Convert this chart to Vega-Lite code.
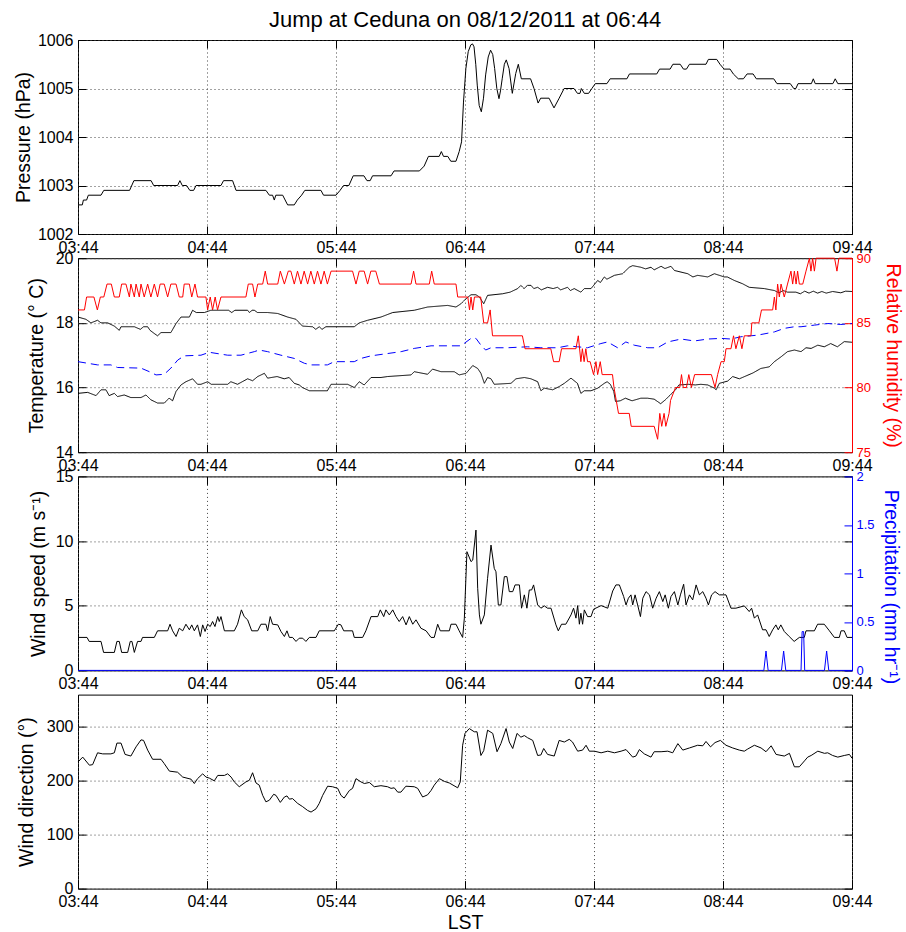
{
"$schema":"https://vega.github.io/schema/vega-lite/v6.json",
"background":"white",
"padding":{"left":12,"top":8,"right":5,"bottom":5},
"title":{"text":"Jump at Ceduna on 08/12/2011 at 06:44","fontSize":22,"fontWeight":"normal","font":"Liberation Sans","color":"black","anchor":"middle","frame":"group","offset":0},
"spacing":24.2,
"bounds":"flush",
"config":{
 "font":"Liberation Sans",
 "view":{"stroke":"black","strokeWidth":1},
 "axis":{"labelFont":"Liberation Sans","labelFontSize":16,"labelColor":"black","titleFont":"Liberation Sans","titleFontSize":19.5,"titleFontWeight":"normal","titleColor":"black","tickColor":"black","tickWidth":1,"tickSize":-8,"domain":false,"gridColor":"#444","gridDash":[1,3],"gridWidth":1,"labelFlush":false,"labelOverlap":false}
},
"datasets":{
"pres":[{"t":0,"v":1002.6},{"t":2,"v":1002.6},{"t":2.5,"v":1002.7},{"t":4,"v":1002.7},{"t":4.8,"v":1002.8},{"t":10.7,"v":1002.8},{"t":12,"v":1002.9},{"t":24,"v":1002.9},{"t":26,"v":1003.1},{"t":34,"v":1003.1},{"t":35.2,"v":1003.0},{"t":46.3,"v":1003.0},{"t":47.4,"v":1003.1},{"t":48.5,"v":1003.0},{"t":50.5,"v":1003.0},{"t":52,"v":1002.9},{"t":53.8,"v":1002.9},{"t":54.9,"v":1003.0},{"t":66.5,"v":1003.0},{"t":67.7,"v":1003.1},{"t":71.9,"v":1003.1},{"t":73.5,"v":1002.9},{"t":87.4,"v":1002.9},{"t":89,"v":1002.8},{"t":90.5,"v":1002.8},{"t":91.3,"v":1002.7},{"t":92,"v":1002.8},{"t":95.2,"v":1002.8},{"t":97.5,"v":1002.6},{"t":100.6,"v":1002.6},{"t":102,"v":1002.7},{"t":104,"v":1002.8},{"t":105.5,"v":1002.9},{"t":113,"v":1002.9},{"t":114.2,"v":1002.8},{"t":120,"v":1002.8},{"t":121.9,"v":1002.9},{"t":123.5,"v":1003.0},{"t":126,"v":1003.0},{"t":128,"v":1003.2},{"t":133,"v":1003.2},{"t":134.4,"v":1003.1},{"t":135.9,"v":1003.1},{"t":137,"v":1003.2},{"t":145.6,"v":1003.2},{"t":147,"v":1003.3},{"t":158.8,"v":1003.3},{"t":161,"v":1003.4},{"t":163,"v":1003.6},{"t":168,"v":1003.6},{"t":169,"v":1003.7},{"t":170,"v":1003.6},{"t":172,"v":1003.6},{"t":173.4,"v":1003.5},{"t":175.8,"v":1003.5},{"t":177.3,"v":1003.7},{"t":178.4,"v":1003.9},{"t":179.3,"v":1004.72},{"t":180.4,"v":1005.41},{"t":181.5,"v":1005.76},{"t":182.7,"v":1005.9},{"t":183.5,"v":1005.92},{"t":184.2,"v":1005.86},{"t":185.0,"v":1005.5},{"t":185.7,"v":1005.07},{"t":186.6,"v":1004.65},{"t":187.6,"v":1004.52},{"t":188.6,"v":1004.8},{"t":189.6,"v":1005.28},{"t":190.8,"v":1005.65},{"t":191.9,"v":1005.79},{"t":192.9,"v":1005.7},{"t":193.8,"v":1005.41},{"t":194.8,"v":1005.0},{"t":195.8,"v":1004.79},{"t":196.5,"v":1004.95},{"t":197.3,"v":1005.2},{"t":198.3,"v":1005.5},{"t":199.2,"v":1005.59},{"t":200.5,"v":1005.41},{"t":202,"v":1004.9},{"t":203.6,"v":1005.31},{"t":204.8,"v":1005.5},{"t":206.2,"v":1005.2},{"t":210.5,"v":1005.2},{"t":212.1,"v":1005.0},{"t":214,"v":1004.7},{"t":215.2,"v":1004.8},{"t":219.1,"v":1004.8},{"t":221.4,"v":1004.6},{"t":223.8,"v":1004.8},{"t":226.1,"v":1005.0},{"t":230.7,"v":1005.0},{"t":232.3,"v":1004.9},{"t":233.5,"v":1004.9},{"t":234.1,"v":1005.0},{"t":235.5,"v":1004.9},{"t":237.5,"v":1004.9},{"t":239,"v":1005.0},{"t":240.6,"v":1005.1},{"t":246,"v":1005.1},{"t":247.5,"v":1005.2},{"t":255.3,"v":1005.2},{"t":256.5,"v":1005.3},{"t":269.2,"v":1005.3},{"t":270.5,"v":1005.4},{"t":275.4,"v":1005.4},{"t":276.7,"v":1005.5},{"t":280.1,"v":1005.5},{"t":281.6,"v":1005.4},{"t":283,"v":1005.4},{"t":284.4,"v":1005.5},{"t":292.1,"v":1005.5},{"t":293.2,"v":1005.6},{"t":297.1,"v":1005.6},{"t":298.6,"v":1005.5},{"t":300.5,"v":1005.4},{"t":303.3,"v":1005.4},{"t":304.8,"v":1005.3},{"t":307.1,"v":1005.2},{"t":309.5,"v":1005.2},{"t":311.2,"v":1005.3},{"t":314,"v":1005.3},{"t":315.5,"v":1005.2},{"t":323.6,"v":1005.2},{"t":325.1,"v":1005.1},{"t":331.3,"v":1005.1},{"t":332.9,"v":1005.0},{"t":333.9,"v":1005.0},{"t":334.9,"v":1005.1},{"t":341.1,"v":1005.1},{"t":342,"v":1005.2},{"t":342.9,"v":1005.1},{"t":351.1,"v":1005.1},{"t":352.2,"v":1005.2},{"t":353.4,"v":1005.1},{"t":360,"v":1005.1}],
"temp":[
{"s":"T","t":0,"v":18.18},{"s":"T","t":3.7,"v":18.11},{"s":"T","t":6,"v":18.0},{"s":"T","t":9.1,"v":18.08},{"s":"T","t":10.7,"v":18.0},{"s":"T","t":13.8,"v":18.0},{"s":"T","t":16.9,"v":17.9},{"s":"T","t":19.2,"v":17.77},{"s":"T","t":20,"v":17.88},{"s":"T","t":26.2,"v":17.88},{"s":"T","t":29,"v":17.8},{"s":"T","t":30.5,"v":17.88},{"s":"T","t":32.4,"v":17.88},{"s":"T","t":33.5,"v":17.77},{"s":"T","t":35.5,"v":17.67},{"s":"T","t":37,"v":17.6},{"s":"T","t":38.6,"v":17.7},{"s":"T","t":43.2,"v":17.7},{"s":"T","t":45.6,"v":17.98},{"s":"T","t":47.9,"v":18.18},{"s":"T","t":51.8,"v":18.18},{"s":"T","t":53.3,"v":18.39},{"s":"T","t":55,"v":18.32},{"s":"T","t":58.8,"v":18.32},{"s":"T","t":61.8,"v":18.39},{"s":"T","t":70,"v":18.39},{"s":"T","t":71.5,"v":18.32},{"s":"T","t":73,"v":18.39},{"s":"T","t":78.9,"v":18.39},{"s":"T","t":79.7,"v":18.32},{"s":"T","t":81,"v":18.39},{"s":"T","t":82,"v":18.39},{"s":"T","t":83.5,"v":18.32},{"s":"T","t":88.2,"v":18.32},{"s":"T","t":92.9,"v":18.29},{"s":"T","t":97.5,"v":18.18},{"s":"T","t":101.4,"v":18.11},{"s":"T","t":104.4,"v":17.9},{"s":"T","t":109.1,"v":17.88},{"s":"T","t":110.6,"v":17.8},{"s":"T","t":112.2,"v":17.88},{"s":"T","t":113.5,"v":17.8},{"s":"T","t":115.3,"v":17.88},{"s":"T","t":128.5,"v":17.88},{"s":"T","t":130.8,"v":18.0},{"s":"T","t":134.7,"v":18.08},{"s":"T","t":140.9,"v":18.18},{"s":"T","t":146.4,"v":18.32},{"s":"T","t":156.4,"v":18.39},{"s":"T","t":162.6,"v":18.49},{"s":"T","t":171.9,"v":18.54},{"s":"T","t":175.8,"v":18.49},{"s":"T","t":178.1,"v":18.59},{"s":"T","t":180.5,"v":18.75},{"s":"T","t":182.8,"v":18.87},{"s":"T","t":185.1,"v":18.87},{"s":"T","t":186.7,"v":18.8},{"s":"T","t":188.7,"v":18.59},{"s":"T","t":190.5,"v":18.85},{"s":"T","t":197.5,"v":18.9},{"s":"T","t":201,"v":18.95},{"s":"T","t":204.5,"v":19.06},{"s":"T","t":206,"v":19.16},{"s":"T","t":207.5,"v":19.06},{"s":"T","t":209,"v":19.16},{"s":"T","t":210.7,"v":19.16},{"s":"T","t":212,"v":19.06},{"s":"T","t":213.8,"v":19.1},{"s":"T","t":215.5,"v":19.02},{"s":"T","t":218.4,"v":19.1},{"s":"T","t":221,"v":19.06},{"s":"T","t":223,"v":19.1},{"s":"T","t":224.5,"v":19.02},{"s":"T","t":227.7,"v":19.1},{"s":"T","t":229,"v":19.0},{"s":"T","t":230.8,"v":19.06},{"s":"T","t":233.9,"v":18.95},{"s":"T","t":235.5,"v":19.06},{"s":"T","t":238.6,"v":19.06},{"s":"T","t":241.7,"v":19.31},{"s":"T","t":243,"v":19.25},{"s":"T","t":244.8,"v":19.42},{"s":"T","t":246,"v":19.35},{"s":"T","t":249.5,"v":19.47},{"s":"T","t":253.3,"v":19.52},{"s":"T","t":256.4,"v":19.72},{"s":"T","t":258,"v":19.77},{"s":"T","t":261.8,"v":19.72},{"s":"T","t":264,"v":19.67},{"s":"T","t":266.5,"v":19.72},{"s":"T","t":268,"v":19.64},{"s":"T","t":271.2,"v":19.75},{"s":"T","t":273,"v":19.68},{"s":"T","t":275.8,"v":19.75},{"s":"T","t":277.4,"v":19.62},{"s":"T","t":283.6,"v":19.52},{"s":"T","t":286,"v":19.42},{"s":"T","t":288.2,"v":19.47},{"s":"T","t":292.9,"v":19.42},{"s":"T","t":296,"v":19.52},{"s":"T","t":300.6,"v":19.42},{"s":"T","t":302,"v":19.42},{"s":"T","t":305.3,"v":19.31},{"s":"T","t":309.1,"v":19.21},{"s":"T","t":312.2,"v":19.1},{"s":"T","t":319.2,"v":19.06},{"s":"T","t":323.9,"v":19.0},{"s":"T","t":326,"v":18.93},{"s":"T","t":328,"v":19.0},{"s":"T","t":330,"v":18.95},{"s":"T","t":333.9,"v":18.95},{"s":"T","t":336,"v":18.9},{"s":"T","t":338,"v":18.98},{"s":"T","t":340,"v":18.92},{"s":"T","t":342,"v":18.98},{"s":"T","t":344,"v":18.92},{"s":"T","t":346,"v":18.97},{"s":"T","t":348,"v":18.92},{"s":"T","t":351,"v":18.97},{"s":"T","t":354.8,"v":18.93},{"s":"T","t":357,"v":18.98},{"s":"T","t":360,"v":18.97},
{"s":"Td","t":0,"v":15.82},{"s":"Td","t":4.5,"v":15.85},{"s":"Td","t":8.4,"v":15.75},{"s":"Td","t":10.7,"v":15.93},{"s":"Td","t":13,"v":15.93},{"s":"Td","t":14.5,"v":15.75},{"s":"Td","t":16.9,"v":15.82},{"s":"Td","t":18.4,"v":15.72},{"s":"Td","t":21.5,"v":15.77},{"s":"Td","t":24.6,"v":15.69},{"s":"Td","t":29.3,"v":15.69},{"s":"Td","t":31.6,"v":15.77},{"s":"Td","t":33.9,"v":15.62},{"s":"Td","t":37,"v":15.52},{"s":"Td","t":40.1,"v":15.52},{"s":"Td","t":42.4,"v":15.67},{"s":"Td","t":44,"v":15.59},{"s":"Td","t":45.6,"v":15.88},{"s":"Td","t":47.9,"v":16.08},{"s":"Td","t":50.2,"v":16.18},{"s":"Td","t":53.3,"v":16.27},{"s":"Td","t":55.6,"v":16.1},{"s":"Td","t":57.2,"v":16.1},{"s":"Td","t":60.3,"v":16.18},{"s":"Td","t":62,"v":16.1},{"s":"Td","t":66.5,"v":16.1},{"s":"Td","t":69.6,"v":16.1},{"s":"Td","t":71.1,"v":16.18},{"s":"Td","t":74.2,"v":16.1},{"s":"Td","t":78.9,"v":16.27},{"s":"Td","t":81.2,"v":16.21},{"s":"Td","t":83.6,"v":16.34},{"s":"Td","t":86.7,"v":16.44},{"s":"Td","t":88.2,"v":16.29},{"s":"Td","t":92.6,"v":16.34},{"s":"Td","t":95.9,"v":16.27},{"s":"Td","t":98.2,"v":16.31},{"s":"Td","t":100.6,"v":16.13},{"s":"Td","t":102.9,"v":16.08},{"s":"Td","t":104.4,"v":16.0},{"s":"Td","t":107.6,"v":15.9},{"s":"Td","t":116,"v":15.9},{"s":"Td","t":117.7,"v":16.1},{"s":"Td","t":125.4,"v":16.1},{"s":"Td","t":128.5,"v":16.0},{"s":"Td","t":130.8,"v":16.18},{"s":"Td","t":133.1,"v":16.08},{"s":"Td","t":136.3,"v":16.31},{"s":"Td","t":140.9,"v":16.31},{"s":"Td","t":144,"v":16.34},{"s":"Td","t":154.9,"v":16.39},{"s":"Td","t":156.4,"v":16.49},{"s":"Td","t":162.6,"v":16.41},{"s":"Td","t":164.9,"v":16.57},{"s":"Td","t":168.8,"v":16.49},{"s":"Td","t":175,"v":16.49},{"s":"Td","t":177.3,"v":16.39},{"s":"Td","t":180.5,"v":16.44},{"s":"Td","t":183.6,"v":16.68},{"s":"Td","t":185.9,"v":16.59},{"s":"Td","t":187.4,"v":16.44},{"s":"Td","t":189,"v":16.13},{"s":"Td","t":190.5,"v":16.31},{"s":"Td","t":192.1,"v":16.27},{"s":"Td","t":193.6,"v":16.1},{"s":"Td","t":201.4,"v":16.13},{"s":"Td","t":203.7,"v":16.27},{"s":"Td","t":207.6,"v":16.31},{"s":"Td","t":210.7,"v":16.27},{"s":"Td","t":213.8,"v":16.18},{"s":"Td","t":215.3,"v":15.9},{"s":"Td","t":216.9,"v":15.98},{"s":"Td","t":220.8,"v":15.93},{"s":"Td","t":223.8,"v":16.03},{"s":"Td","t":226.2,"v":16.13},{"s":"Td","t":229.3,"v":16.29},{"s":"Td","t":232.3,"v":16.13},{"s":"Td","t":233.9,"v":15.82},{"s":"Td","t":235.5,"v":15.9},{"s":"Td","t":238.6,"v":15.9},{"s":"Td","t":241.7,"v":15.98},{"s":"Td","t":244.8,"v":16.13},{"s":"Td","t":246.1,"v":16.18},{"s":"Td","t":247.6,"v":16.1},{"s":"Td","t":249.2,"v":15.88},{"s":"Td","t":250,"v":15.57},{"s":"Td","t":252.2,"v":15.59},{"s":"Td","t":254.6,"v":15.67},{"s":"Td","t":257.7,"v":15.59},{"s":"Td","t":261.8,"v":15.67},{"s":"Td","t":264.9,"v":15.67},{"s":"Td","t":268,"v":15.64},{"s":"Td","t":271,"v":15.5},{"s":"Td","t":273.2,"v":15.62},{"s":"Td","t":275.6,"v":15.78},{"s":"Td","t":277.9,"v":15.93},{"s":"Td","t":279.5,"v":16.08},{"s":"Td","t":284,"v":16.1},{"s":"Td","t":287.1,"v":16.08},{"s":"Td","t":289.7,"v":16.1},{"s":"Td","t":292.9,"v":16.08},{"s":"Td","t":296,"v":15.98},{"s":"Td","t":296.8,"v":15.93},{"s":"Td","t":298.3,"v":16.13},{"s":"Td","t":302.2,"v":16.2},{"s":"Td","t":304.5,"v":16.34},{"s":"Td","t":307.6,"v":16.27},{"s":"Td","t":313.9,"v":16.45},{"s":"Td","t":317.6,"v":16.59},{"s":"Td","t":321.5,"v":16.64},{"s":"Td","t":323.9,"v":16.8},{"s":"Td","t":327,"v":16.95},{"s":"Td","t":330,"v":17.11},{"s":"Td","t":333.2,"v":17.16},{"s":"Td","t":336.3,"v":17.11},{"s":"Td","t":338.6,"v":17.23},{"s":"Td","t":341,"v":17.21},{"s":"Td","t":344.1,"v":17.31},{"s":"Td","t":347.1,"v":17.26},{"s":"Td","t":350.1,"v":17.36},{"s":"Td","t":353.2,"v":17.26},{"s":"Td","t":356.4,"v":17.42},{"s":"Td","t":360,"v":17.4},
{"s":"Tw","t":0,"v":16.8},{"s":"Tw","t":9.1,"v":16.7},{"s":"Tw","t":15.3,"v":16.7},{"s":"Tw","t":18.4,"v":16.62},{"s":"Tw","t":29.3,"v":16.6},{"s":"Tw","t":33.2,"v":16.49},{"s":"Tw","t":36.3,"v":16.39},{"s":"Tw","t":40.1,"v":16.41},{"s":"Tw","t":43.2,"v":16.6},{"s":"Tw","t":46.4,"v":16.85},{"s":"Tw","t":49.4,"v":16.98},{"s":"Tw","t":57.2,"v":17.0},{"s":"Tw","t":61.1,"v":17.09},{"s":"Tw","t":69.6,"v":17.0},{"s":"Tw","t":75.8,"v":17.0},{"s":"Tw","t":82,"v":17.11},{"s":"Tw","t":84.3,"v":17.16},{"s":"Tw","t":88.2,"v":17.11},{"s":"Tw","t":94.4,"v":17.0},{"s":"Tw","t":100.6,"v":16.9},{"s":"Tw","t":105.3,"v":16.75},{"s":"Tw","t":108.4,"v":16.7},{"s":"Tw","t":116,"v":16.7},{"s":"Tw","t":119.2,"v":16.8},{"s":"Tw","t":128.5,"v":16.8},{"s":"Tw","t":131.6,"v":16.9},{"s":"Tw","t":136.3,"v":16.98},{"s":"Tw","t":150.3,"v":17.11},{"s":"Tw","t":156.4,"v":17.21},{"s":"Tw","t":164.2,"v":17.29},{"s":"Tw","t":178.1,"v":17.29},{"s":"Tw","t":182.8,"v":17.52},{"s":"Tw","t":185.1,"v":17.52},{"s":"Tw","t":187.3,"v":17.32},{"s":"Tw","t":189.6,"v":17.16},{"s":"Tw","t":192.1,"v":17.23},{"s":"Tw","t":199.8,"v":17.23},{"s":"Tw","t":209,"v":17.26},{"s":"Tw","t":215.3,"v":17.23},{"s":"Tw","t":223.1,"v":17.23},{"s":"Tw","t":227.7,"v":17.29},{"s":"Tw","t":232.3,"v":17.26},{"s":"Tw","t":237,"v":17.23},{"s":"Tw","t":243.2,"v":17.36},{"s":"Tw","t":246.3,"v":17.41},{"s":"Tw","t":251,"v":17.23},{"s":"Tw","t":254.8,"v":17.41},{"s":"Tw","t":258.7,"v":17.31},{"s":"Tw","t":265,"v":17.23},{"s":"Tw","t":269.6,"v":17.23},{"s":"Tw","t":274.3,"v":17.41},{"s":"Tw","t":280.5,"v":17.5},{"s":"Tw","t":286.7,"v":17.44},{"s":"Tw","t":292.9,"v":17.5},{"s":"Tw","t":299.1,"v":17.52},{"s":"Tw","t":303.7,"v":17.5},{"s":"Tw","t":308.3,"v":17.57},{"s":"Tw","t":316.1,"v":17.62},{"s":"Tw","t":323.9,"v":17.72},{"s":"Tw","t":328.5,"v":17.83},{"s":"Tw","t":333.2,"v":17.88},{"s":"Tw","t":336.3,"v":17.88},{"s":"Tw","t":342.5,"v":17.93},{"s":"Tw","t":348.7,"v":17.98},{"s":"Tw","t":354.8,"v":17.95},{"s":"Tw","t":360,"v":17.98}],
"rh":[{"t":0,"v":86},{"t":3,"v":86},{"t":4,"v":87},{"t":7.4,"v":87},{"t":9,"v":86},{"t":10.4,"v":87},{"t":12,"v":87},{"t":13.5,"v":88},{"t":15.5,"v":88},{"t":16.9,"v":87},{"t":19.2,"v":87},{"t":20.3,"v":88},{"t":22.3,"v":88},{"t":23.9,"v":87},{"t":24.6,"v":88},{"t":26.2,"v":87},{"t":27,"v":88},{"t":28.5,"v":87},{"t":29.3,"v":88},{"t":30.8,"v":87},{"t":32.4,"v":88},{"t":33.9,"v":87},{"t":35.5,"v":88},{"t":37,"v":87},{"t":38.2,"v":88},{"t":40.1,"v":88},{"t":41.7,"v":87},{"t":43.2,"v":88},{"t":45.6,"v":88},{"t":47.1,"v":87},{"t":48.7,"v":87},{"t":49.4,"v":88},{"t":51.8,"v":88},{"t":52.9,"v":87},{"t":54.4,"v":88},{"t":55.6,"v":87},{"t":59.5,"v":87},{"t":60.3,"v":86},{"t":61.5,"v":87},{"t":62.6,"v":86},{"t":63.8,"v":87},{"t":64.9,"v":86},{"t":66.5,"v":87},{"t":78.1,"v":87},{"t":79.2,"v":88},{"t":81.2,"v":88},{"t":82.3,"v":87},{"t":83.6,"v":88},{"t":85.9,"v":88},{"t":87.1,"v":89},{"t":88.2,"v":88},{"t":92.9,"v":88},{"t":94.1,"v":89},{"t":96,"v":88},{"t":97.8,"v":89},{"t":99,"v":89},{"t":100.6,"v":88},{"t":102.1,"v":89},{"t":103.7,"v":88},{"t":105.2,"v":89},{"t":106.8,"v":88},{"t":108.3,"v":89},{"t":109.9,"v":88},{"t":111.4,"v":89},{"t":113,"v":88},{"t":114.5,"v":89},{"t":116,"v":88},{"t":117.7,"v":89},{"t":127.7,"v":89},{"t":129.3,"v":88},{"t":130.8,"v":89},{"t":133.1,"v":89},{"t":134.7,"v":88},{"t":136.2,"v":89},{"t":138.5,"v":89},{"t":140.2,"v":88},{"t":154.9,"v":88},{"t":156.1,"v":89},{"t":157.2,"v":88},{"t":163.4,"v":88},{"t":164.5,"v":89},{"t":165.7,"v":88},{"t":175.8,"v":88},{"t":176.6,"v":87},{"t":181.3,"v":87},{"t":182.1,"v":86},{"t":182.8,"v":87},{"t":183.6,"v":86},{"t":184.4,"v":87},{"t":187.3,"v":87},{"t":188.7,"v":85},{"t":190.5,"v":85},{"t":191.7,"v":86},{"t":192.8,"v":84},{"t":206.7,"v":84},{"t":207.9,"v":83},{"t":219.9,"v":83},{"t":221.2,"v":82},{"t":223.8,"v":82},{"t":224.9,"v":83},{"t":231.6,"v":83},{"t":232.7,"v":84},{"t":233.9,"v":82},{"t":234.6,"v":83},{"t":235.4,"v":82},{"t":236.2,"v":83},{"t":237,"v":82},{"t":238.2,"v":82},{"t":239.8,"v":81},{"t":240.9,"v":82},{"t":241.7,"v":81},{"t":242.9,"v":82},{"t":243.8,"v":81},{"t":248.6,"v":81},{"t":249.3,"v":80},{"t":251.4,"v":78},{"t":256.4,"v":78},{"t":257.3,"v":77},{"t":268,"v":77},{"t":269.6,"v":76},{"t":270.6,"v":78},{"t":271.5,"v":77},{"t":272.6,"v":78},{"t":273.4,"v":77},{"t":274.9,"v":78},{"t":275.6,"v":79},{"t":277.9,"v":80},{"t":279.9,"v":80},{"t":280.7,"v":81},{"t":281.5,"v":80},{"t":283,"v":80},{"t":284.1,"v":81},{"t":285.3,"v":80},{"t":286.8,"v":81},{"t":294.6,"v":81},{"t":296.3,"v":80},{"t":297.5,"v":81},{"t":299.1,"v":82},{"t":300.6,"v":82},{"t":301.4,"v":83},{"t":303.7,"v":83},{"t":304.9,"v":84},{"t":306,"v":83},{"t":307.6,"v":84},{"t":308.8,"v":83},{"t":309.9,"v":84},{"t":313,"v":84},{"t":313.4,"v":85},{"t":316.7,"v":85},{"t":317.9,"v":86},{"t":323.1,"v":86},{"t":323.9,"v":87},{"t":324.6,"v":86},{"t":325.4,"v":88},{"t":326.2,"v":87},{"t":327,"v":88},{"t":328.5,"v":87},{"t":330,"v":88},{"t":331.6,"v":89},{"t":332.4,"v":88},{"t":333.2,"v":89},{"t":334,"v":88},{"t":334.7,"v":89},{"t":335.5,"v":88},{"t":337.1,"v":88},{"t":338.6,"v":89},{"t":340.2,"v":90},{"t":340.9,"v":89},{"t":341.7,"v":90},{"t":342.5,"v":89},{"t":343.3,"v":90},{"t":351.9,"v":90},{"t":353,"v":89},{"t":353.9,"v":90},{"t":360,"v":90}],
"ws":[{"t":0,"v":2.55},{"t":4.2,"v":2.55},{"t":5.2,"v":2.24},{"t":10.7,"v":2.24},{"t":11.9,"v":1.39},{"t":16.9,"v":1.39},{"t":18.1,"v":2.24},{"t":19.2,"v":2.24},{"t":20.3,"v":1.39},{"t":23.1,"v":1.39},{"t":24.3,"v":2.24},{"t":25.1,"v":2.24},{"t":26.2,"v":1.39},{"t":27.7,"v":2.24},{"t":29.3,"v":2.24},{"t":30,"v":2.55},{"t":35.5,"v":2.55},{"t":37,"v":3.06},{"t":41.7,"v":3.06},{"t":42.8,"v":3.57},{"t":44,"v":3.06},{"t":45.6,"v":2.62},{"t":47.1,"v":3.26},{"t":48.7,"v":3.06},{"t":50.2,"v":3.57},{"t":51.8,"v":3.14},{"t":52.9,"v":3.52},{"t":54.1,"v":3.06},{"t":55.6,"v":3.52},{"t":56.9,"v":2.62},{"t":58,"v":3.52},{"t":59.1,"v":3.01},{"t":60.3,"v":3.57},{"t":61.5,"v":3.39},{"t":62.6,"v":3.78},{"t":63.7,"v":3.39},{"t":65,"v":4.16},{"t":65.7,"v":3.78},{"t":66.5,"v":4.16},{"t":68.1,"v":3.06},{"t":72.7,"v":3.06},{"t":74.2,"v":3.57},{"t":76,"v":4.68},{"t":77.3,"v":4.16},{"t":78.9,"v":3.91},{"t":80.8,"v":3.06},{"t":83.6,"v":3.06},{"t":85.1,"v":3.57},{"t":87.4,"v":3.57},{"t":88.2,"v":3.06},{"t":89.4,"v":4.16},{"t":90.5,"v":3.57},{"t":92.9,"v":3.52},{"t":94.4,"v":3.01},{"t":96,"v":2.62},{"t":97.2,"v":3.06},{"t":98.3,"v":2.55},{"t":99.8,"v":2.55},{"t":101.4,"v":2.24},{"t":102.9,"v":2.49},{"t":104.5,"v":2.49},{"t":106,"v":2.24},{"t":107.6,"v":2.55},{"t":110.7,"v":2.55},{"t":112.2,"v":3.06},{"t":119.2,"v":3.06},{"t":121.1,"v":3.57},{"t":122.3,"v":3.52},{"t":123.6,"v":3.06},{"t":127.7,"v":3.06},{"t":128.5,"v":2.55},{"t":132.4,"v":2.55},{"t":133.9,"v":3.06},{"t":136.3,"v":4.16},{"t":139.4,"v":4.16},{"t":140.6,"v":4.68},{"t":142.2,"v":4.16},{"t":143.2,"v":4.68},{"t":144.8,"v":4.29},{"t":146.4,"v":4.68},{"t":147.9,"v":4.16},{"t":149.4,"v":3.78},{"t":151,"v":4.16},{"t":152.6,"v":3.52},{"t":154.1,"v":4.16},{"t":155.7,"v":3.57},{"t":157.2,"v":3.91},{"t":159.5,"v":3.26},{"t":161.9,"v":3.06},{"t":164.2,"v":2.55},{"t":165.7,"v":2.55},{"t":167.3,"v":3.57},{"t":168.5,"v":3.06},{"t":172.7,"v":3.06},{"t":173.5,"v":3.57},{"t":175.8,"v":3.57},{"t":177.3,"v":3.06},{"t":178.9,"v":2.55},{"t":179.7,"v":4.04},{"t":180.9,"v":9.18},{"t":182.8,"v":8.41},{"t":183.6,"v":8.53},{"t":185.1,"v":10.85},{"t":185.9,"v":6.35},{"t":186.7,"v":4.29},{"t":187.4,"v":3.57},{"t":189,"v":4.29},{"t":190.5,"v":7.12},{"t":192.1,"v":9.69},{"t":193.6,"v":7.89},{"t":194.4,"v":7.63},{"t":195.5,"v":5.06},{"t":196.7,"v":5.06},{"t":198.3,"v":7.25},{"t":199.5,"v":7.25},{"t":200.6,"v":6.09},{"t":202.2,"v":6.09},{"t":203.3,"v":6.61},{"t":205.3,"v":6.61},{"t":206.3,"v":4.81},{"t":207.6,"v":5.84},{"t":208.8,"v":4.81},{"t":209.9,"v":6.22},{"t":211,"v":6.22},{"t":211.9,"v":6.61},{"t":213.8,"v":5.06},{"t":215.3,"v":4.81},{"t":216.9,"v":4.99},{"t":218.4,"v":4.81},{"t":220,"v":4.81},{"t":222.3,"v":3.52},{"t":223.4,"v":3.06},{"t":224.9,"v":3.57},{"t":226.9,"v":3.57},{"t":229.3,"v":4.29},{"t":230.5,"v":4.81},{"t":231.6,"v":4.04},{"t":232.4,"v":5.01},{"t":233.2,"v":3.57},{"t":233.9,"v":4.42},{"t":234.7,"v":3.57},{"t":235.5,"v":4.68},{"t":237,"v":4.16},{"t":238.6,"v":4.16},{"t":239.8,"v":4.73},{"t":243.3,"v":5.01},{"t":246.4,"v":4.81},{"t":248.7,"v":6.14},{"t":250.2,"v":6.61},{"t":251.8,"v":6.61},{"t":253.8,"v":5.71},{"t":254.9,"v":5.06},{"t":256,"v":5.58},{"t":257.2,"v":5.84},{"t":258,"v":5.06},{"t":259.1,"v":5.84},{"t":260.3,"v":5.06},{"t":261.6,"v":4.16},{"t":262.7,"v":5.58},{"t":264.2,"v":6.09},{"t":265.8,"v":5.84},{"t":267.3,"v":4.81},{"t":268.9,"v":5.58},{"t":270.4,"v":6.09},{"t":272,"v":5.32},{"t":273.1,"v":5.84},{"t":274.6,"v":4.81},{"t":275.8,"v":5.71},{"t":277.4,"v":6.09},{"t":279,"v":5.06},{"t":280.2,"v":5.84},{"t":281.7,"v":6.66},{"t":282.8,"v":5.06},{"t":284.4,"v":5.84},{"t":285.9,"v":5.45},{"t":287.5,"v":6.61},{"t":289,"v":5.84},{"t":290.6,"v":6.09},{"t":292.1,"v":5.58},{"t":293.2,"v":5.06},{"t":294.7,"v":5.84},{"t":296.3,"v":6.09},{"t":298.3,"v":5.84},{"t":301.4,"v":5.84},{"t":303.7,"v":4.81},{"t":306,"v":4.81},{"t":309.9,"v":4.99},{"t":312.2,"v":4.55},{"t":313.3,"v":4.81},{"t":314.6,"v":4.04},{"t":316.1,"v":4.29},{"t":318.4,"v":3.14},{"t":320,"v":3.14},{"t":321.5,"v":2.62},{"t":323.1,"v":3.14},{"t":324.6,"v":3.52},{"t":325.7,"v":3.14},{"t":326.9,"v":3.52},{"t":328.5,"v":3.01},{"t":330.8,"v":2.62},{"t":333.1,"v":2.24},{"t":335.5,"v":2.55},{"t":337.8,"v":2.55},{"t":338.6,"v":3.06},{"t":342.5,"v":3.06},{"t":344,"v":3.57},{"t":347.1,"v":3.57},{"t":349.5,"v":3.06},{"t":351.8,"v":2.55},{"t":354.1,"v":2.55},{"t":354.9,"v":3.06},{"t":356.4,"v":3.06},{"t":357.7,"v":2.55},{"t":360,"v":2.55}],
"pr":[{"t":0,"v":0},{"t":319,"v":0},{"t":320,"v":0.2},{"t":321,"v":0},{"t":327.2,"v":0},{"t":328.2,"v":0.2},{"t":329.2,"v":0},{"t":336.3,"v":0},{"t":336.8,"v":0.4},{"t":337.5,"v":0.4},{"t":338,"v":0},{"t":347.2,"v":0},{"t":348.2,"v":0.2},{"t":349.2,"v":0},{"t":360,"v":0}],
"wd":[{"t":0,"v":235},{"t":2.2,"v":244},{"t":5.3,"v":229},{"t":6.8,"v":230},{"t":9.1,"v":252},{"t":11.5,"v":250},{"t":15.3,"v":250},{"t":16.9,"v":252},{"t":18.1,"v":270},{"t":20,"v":270},{"t":21.9,"v":249},{"t":24.6,"v":246},{"t":27,"v":263},{"t":29.3,"v":276},{"t":30.5,"v":275},{"t":32.4,"v":257},{"t":34.7,"v":240},{"t":38.6,"v":240},{"t":40.1,"v":232},{"t":42.5,"v":218},{"t":46.3,"v":216},{"t":48.7,"v":207},{"t":52.6,"v":203},{"t":54.1,"v":195},{"t":55.6,"v":204},{"t":58,"v":213},{"t":59.5,"v":207},{"t":61.1,"v":205},{"t":63.4,"v":200},{"t":65,"v":210},{"t":68.1,"v":210},{"t":69.6,"v":213},{"t":71.2,"v":207},{"t":72.7,"v":198},{"t":75,"v":189},{"t":78.1,"v":198},{"t":79.7,"v":201},{"t":81.2,"v":215},{"t":82.8,"v":196},{"t":84.3,"v":192},{"t":85.9,"v":173},{"t":87.4,"v":161},{"t":89,"v":164},{"t":91,"v":175},{"t":92.1,"v":173},{"t":94.1,"v":160},{"t":96,"v":170},{"t":97.2,"v":172},{"t":98.3,"v":166},{"t":99.8,"v":167},{"t":102.2,"v":158},{"t":104.5,"v":152},{"t":106.8,"v":145},{"t":108.4,"v":142},{"t":110.7,"v":148},{"t":112.2,"v":158},{"t":113.8,"v":173},{"t":116.1,"v":190},{"t":118.4,"v":189},{"t":120.8,"v":186},{"t":122.3,"v":173},{"t":123.8,"v":168},{"t":126.2,"v":182},{"t":127.7,"v":186},{"t":129.3,"v":204},{"t":131.6,"v":198},{"t":133.2,"v":195},{"t":135.5,"v":197},{"t":137.8,"v":189},{"t":140.9,"v":191},{"t":144,"v":189},{"t":145.6,"v":186},{"t":147.1,"v":187},{"t":148.7,"v":179},{"t":150.2,"v":179},{"t":152.5,"v":190},{"t":156.4,"v":189},{"t":158,"v":186},{"t":160.3,"v":170},{"t":162.6,"v":174},{"t":164.2,"v":182},{"t":165.7,"v":192},{"t":168.1,"v":204},{"t":170.4,"v":199},{"t":172.7,"v":196},{"t":176.6,"v":187},{"t":177.8,"v":198},{"t":178.9,"v":266},{"t":180,"v":288},{"t":182,"v":297},{"t":184.3,"v":291},{"t":185.6,"v":291},{"t":187.4,"v":247},{"t":188.7,"v":256},{"t":190.5,"v":294},{"t":192.9,"v":288},{"t":194.9,"v":254},{"t":196.7,"v":269},{"t":199.1,"v":297},{"t":200.6,"v":272},{"t":202.2,"v":260},{"t":204.2,"v":288},{"t":206,"v":281},{"t":207.6,"v":284},{"t":209.1,"v":280},{"t":211.5,"v":275},{"t":213.8,"v":247},{"t":215.3,"v":248},{"t":216.6,"v":260},{"t":218.4,"v":249},{"t":221.5,"v":246},{"t":223.8,"v":275},{"t":226.2,"v":272},{"t":228.5,"v":277},{"t":230,"v":272},{"t":232.4,"v":255},{"t":234.7,"v":257},{"t":236.3,"v":266},{"t":237.8,"v":255},{"t":240.2,"v":255},{"t":243.3,"v":252},{"t":246.4,"v":255},{"t":249.5,"v":252},{"t":252.6,"v":255},{"t":254.9,"v":258},{"t":258,"v":244},{"t":259.5,"v":246},{"t":261.1,"v":258},{"t":263.4,"v":250},{"t":266.5,"v":244},{"t":268,"v":254},{"t":271.2,"v":254},{"t":274.3,"v":255},{"t":276.6,"v":252},{"t":279,"v":269},{"t":281.3,"v":257},{"t":284.4,"v":261},{"t":288.2,"v":266},{"t":290.6,"v":265},{"t":292.1,"v":273},{"t":294.2,"v":263},{"t":296.3,"v":271},{"t":298.8,"v":275},{"t":301.4,"v":266},{"t":304.5,"v":261},{"t":307.6,"v":257},{"t":309.9,"v":255},{"t":311.5,"v":259},{"t":314.6,"v":266},{"t":317.7,"v":261},{"t":320,"v":254},{"t":322.4,"v":265},{"t":324.7,"v":249},{"t":328.5,"v":246},{"t":330.9,"v":251},{"t":333.2,"v":226},{"t":335.5,"v":226},{"t":337.9,"v":237},{"t":339.4,"v":244},{"t":341,"v":247},{"t":344.1,"v":255},{"t":347.2,"v":251},{"t":348.7,"v":252},{"t":351,"v":247},{"t":353.4,"v":244},{"t":356.4,"v":247},{"t":358.8,"v":249},{"t":360,"v":242}]
},
"vconcat":[
{"width":774,"height":194,
 "layer":[
  {"data":{"name":"pres"},"mark":{"type":"line","color":"black","strokeWidth":1},
   "encoding":{
    "x":{"field":"t","type":"quantitative","scale":{"domain":[0,360],"nice":false,"zero":false},"axis":{"values":[0,60,120,180,240,300,360],"labelExpr":"['03:44','04:44','05:44','06:44','07:44','08:44','09:44'][round(datum.value/60)]","grid":true,"labelPadding":13,"title":null}},
    "y":{"field":"v","type":"quantitative","scale":{"domain":[1002,1006],"nice":false,"zero":false},"axis":{"values":[1002,1003,1004,1005,1006],"format":"d","grid":true,"labelPadding":13,"title":"Pressure (hPa)","titleX":-45}}}},
  {"data":{"name":"pres"},"mark":{"type":"line","opacity":0},
   "encoding":{
    "x":{"field":"t","type":"quantitative","scale":{"domain":[0,360],"nice":false,"zero":false},"axis":{"orient":"top","values":[0,60,120,180,240,300,360],"labels":false,"grid":false,"title":null}},
    "y":{"field":"v","type":"quantitative","scale":{"domain":[1002,1006],"nice":false,"zero":false},"axis":{"orient":"right","values":[1002,1003,1004,1005,1006],"labels":false,"grid":false,"title":null}}}}
 ],
 "resolve":{"axis":{"x":"independent","y":"independent"}}},
{"width":774,"height":194,
 "layer":[
  {"data":{"name":"temp"},"mark":{"type":"line","strokeWidth":1},
   "encoding":{
    "x":{"field":"t","type":"quantitative","scale":{"domain":[0,360],"nice":false,"zero":false},"axis":{"values":[0,60,120,180,240,300,360],"labelExpr":"['03:44','04:44','05:44','06:44','07:44','08:44','09:44'][round(datum.value/60)]","grid":true,"labelPadding":13,"title":null}},
    "y":{"field":"v","type":"quantitative","scale":{"domain":[14,20],"nice":false,"zero":false},"axis":{"orient":"left","values":[14,16,18,20],"grid":true,"labelPadding":13,"title":"Temperature (° C)","titleX":-32}},
    "color":{"field":"s","type":"nominal","scale":{"domain":["T","Td","Tw"],"range":["#000000","#000000","#0000ff"]},"legend":null},
    "strokeDash":{"field":"s","type":"nominal","scale":{"domain":["T","Td","Tw"],"range":[[1,0],[1,0],[8,5]]},"legend":null}}},
  {"data":{"name":"temp"},"mark":{"type":"line","opacity":0},
   "encoding":{
    "x":{"field":"t","type":"quantitative","scale":{"domain":[0,360],"nice":false,"zero":false},"axis":{"orient":"top","values":[0,60,120,180,240,300,360],"labels":false,"grid":false,"title":null}},
    "y":{"field":"v","type":"quantitative","scale":{"domain":[14,20],"nice":false,"zero":false},"axis":null},
    "detail":{"field":"s"}}},
  {"data":{"name":"rh"},"mark":{"type":"line","color":"#ff0000","strokeWidth":1},
   "encoding":{
    "x":{"field":"t","type":"quantitative","scale":{"domain":[0,360],"nice":false,"zero":false},"axis":null},
    "y":{"field":"v","type":"quantitative","scale":{"domain":[75,90],"nice":false,"zero":false},"axis":{"orient":"right","values":[75,80,85,90],"grid":false,"labelFontSize":13,"labelColor":"#ff0000","tickColor":"#ff0000","labelPadding":12,"domain":true,"domainColor":"#ff0000","title":"Relative humidity (%)","titleColor":"#ff0000","titleX":30}}}}
 ],
 "resolve":{"scale":{"y":"independent"},"axis":{"x":"independent","y":"independent"}}},
{"width":774,"height":194,
 "layer":[
  {"data":{"name":"ws"},"mark":{"type":"line","color":"black","strokeWidth":1},
   "encoding":{
    "x":{"field":"t","type":"quantitative","scale":{"domain":[0,360],"nice":false,"zero":false},"axis":{"values":[0,60,120,180,240,300,360],"labelExpr":"['03:44','04:44','05:44','06:44','07:44','08:44','09:44'][round(datum.value/60)]","grid":true,"labelPadding":13,"title":null}},
    "y":{"field":"v","type":"quantitative","scale":{"domain":[0,15],"nice":false},"axis":{"orient":"left","values":[0,5,10,15],"grid":true,"labelPadding":13,"title":"Wind speed (m s⁻¹)","titleX":-30}}}},
  {"data":{"name":"ws"},"mark":{"type":"line","opacity":0},
   "encoding":{
    "x":{"field":"t","type":"quantitative","scale":{"domain":[0,360],"nice":false,"zero":false},"axis":{"orient":"top","values":[0,60,120,180,240,300,360],"labels":false,"grid":false,"title":null}},
    "y":{"field":"v","type":"quantitative","scale":{"domain":[0,15],"nice":false},"axis":{"orient":"right","values":[0,5,10,15],"labels":false,"grid":false,"title":null}}}},
  {"data":{"name":"pr"},"mark":{"type":"line","color":"#0000ff","strokeWidth":1},
   "encoding":{
    "x":{"field":"t","type":"quantitative","scale":{"domain":[0,360],"nice":false,"zero":false},"axis":null},
    "y":{"field":"v","type":"quantitative","scale":{"domain":[0,2],"nice":false},"axis":{"orient":"right","values":[0,0.5,1,1.5,2],"format":"~g","grid":false,"labelFontSize":13,"labelColor":"#0000ff","tickColor":"#0000ff","labelPadding":12,"domain":true,"domainColor":"#0000ff","title":"Precipitation (mm hr⁻¹)","titleColor":"#0000ff","titleX":28,"titleY":110}}}}
 ],
 "resolve":{"scale":{"y":"independent"},"axis":{"x":"independent","y":"independent"}}},
{"width":774,"height":194,
 "layer":[
  {"data":{"name":"wd"},"mark":{"type":"line","color":"black","strokeWidth":1},
   "encoding":{
    "x":{"field":"t","type":"quantitative","scale":{"domain":[0,360],"nice":false,"zero":false},"axis":{"values":[0,60,120,180,240,300,360],"labelExpr":"['03:44','04:44','05:44','06:44','07:44','08:44','09:44'][round(datum.value/60)]","grid":true,"labelPadding":13,"title":"LST","titleY":25,"titleBaseline":"top"}},
    "y":{"field":"v","type":"quantitative","scale":{"domain":[0,360],"nice":false},"axis":{"values":[0,100,200,300],"grid":true,"labelPadding":13,"title":"Wind direction (°)","titleX":-42}}}},
  {"data":{"name":"wd"},"mark":{"type":"line","opacity":0},
   "encoding":{
    "x":{"field":"t","type":"quantitative","scale":{"domain":[0,360],"nice":false,"zero":false},"axis":{"orient":"top","values":[0,60,120,180,240,300,360],"labels":false,"grid":false,"title":null}},
    "y":{"field":"v","type":"quantitative","scale":{"domain":[0,360],"nice":false},"axis":{"orient":"right","values":[0,100,200,300],"labels":false,"grid":false,"title":null}}}}
 ],
 "resolve":{"axis":{"x":"independent","y":"independent"}}}
]
}
